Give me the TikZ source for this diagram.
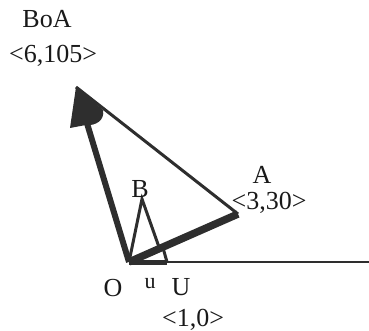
\documentclass[tikz,border=0pt]{standalone}
\usepackage{fontspec}
\setmainfont{Liberation Serif}
\usetikzlibrary{calc}
\begin{document}
\begin{tikzpicture}[x=1pt,y=-1pt,
  lbl/.style={font=\fontsize{26}{30}\selectfont, inner sep=0pt, text=black!90},
  smalllbl/.style={font=\fontsize{22}{26}\selectfont, inner sep=0pt, text=black!90},
  fineline/.style={line width=3pt, draw=black!82},
  heavyline/.style={line width=6pt, draw=black!82},
  axisline/.style={line width=2.6pt, draw=black!82}]
\useasboundingbox (0,0) rectangle (369,331);
\coordinate (O) at (129,262);
\coordinate (U) at (167,262);
\coordinate (A) at (238,214);
\coordinate (T) at (76,87);
\coordinate (B) at (142,199);
\coordinate (E) at (369,262);
\coordinate (Q) at ($(O)!0.28!(A)$);
\coordinate (R) at ($(O)!0.31!(A)$);
\coordinate (S) at ($(O)!0.8!(T)$);
% thin lines
\draw[axisline] (O) -- (E);
\draw[fineline] (T) -- (A);
\draw[fineline, line join=miter] (O) -- (B) -- (Q);
\draw[fineline] (U) -- (R);
% thick lines
\draw[heavyline, line width=5pt] (O) -- (U);
\draw[heavyline, line width=7.5pt] (O) -- (A);
\draw[heavyline] (O) -- (S);
% arrowhead
\fill[black!82] (T) -- (103,110) .. controls (105,120) and (96,126) .. (86,125) -- (70,128) -- cycle;
% labels
\node[lbl] (boa) at (47,19) {BoA};
\node[lbl] (boav) at (53,56) {<6,105>};
\node[lbl] (bl) at (140,189) {B};
\node[lbl] (al) at (262,175) {A};
\node[lbl] (av) at (269,203) {<3,30>};
\node[lbl] (ol) at (113,288) {O};
\node[smalllbl] (ul) at (150,284) {u};
\node[lbl] (Ul) at (181,287) {U};
\node[lbl] (uv) at (193,320) {<1,0>};
\end{tikzpicture}
\end{document}
